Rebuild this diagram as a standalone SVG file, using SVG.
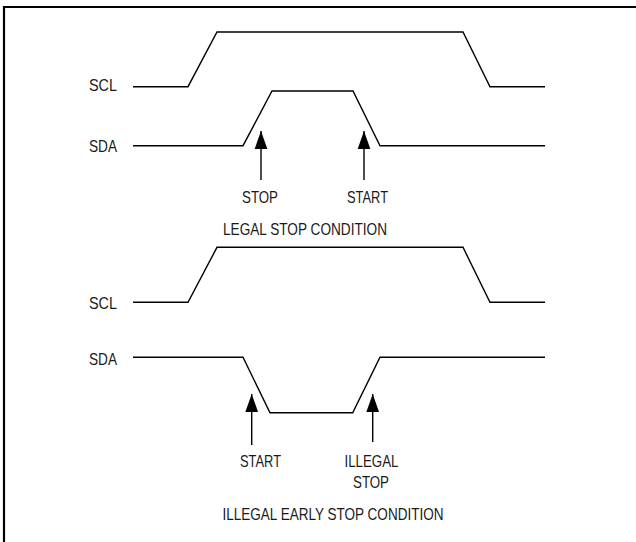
<svg xmlns="http://www.w3.org/2000/svg" width="636" height="542" viewBox="0 0 636 542">
<defs>
<marker id="ah" markerUnits="userSpaceOnUse" markerWidth="18" markerHeight="14" viewBox="0 0 17 12" refX="17" refY="6" orient="auto">
<path d="M0,0 L17,6 L0,12 Z" fill="#000"/>
</marker>
<style>
.w{fill:none;stroke:#000;stroke-width:1.4;stroke-linejoin:miter}
.a{stroke:#000;stroke-width:1.4;fill:none}
.t{font-family:"Liberation Sans",Arial,sans-serif;font-size:16.5px;fill:#1a1a1a}
.c{text-anchor:middle}
.e{text-anchor:end}
</style>
</defs>
<rect width="636" height="542" fill="#fff"/>
<path d="M4,560 V7 H650" fill="none" stroke="#000" stroke-width="2.2"/>
<g id="legal">
<g id="scl1"><text class="t e" x="117" y="91" textLength="28" lengthAdjust="spacingAndGlyphs">SCL</text>
<path class="w" d="M133,86.7 H188 L217,32 H463 L490,86.7 H545"/></g>
<g id="sda1"><text class="t e" x="117" y="152" textLength="28" lengthAdjust="spacingAndGlyphs">SDA</text>
<path class="w" d="M133,145.7 H243 L272,91 H353 L380,145.7 H545"/></g>
<g id="stop1"><text class="t c" x="260" y="203" textLength="36" lengthAdjust="spacingAndGlyphs">STOP</text></g>
<g id="start1"><text class="t c" x="367.5" y="203" textLength="41" lengthAdjust="spacingAndGlyphs">START</text></g>
<text class="t c" x="305" y="235" textLength="164" lengthAdjust="spacingAndGlyphs">LEGAL STOP CONDITION</text>
</g>
<g id="illegal">
<g id="scl2"><text class="t e" x="117" y="309" textLength="28" lengthAdjust="spacingAndGlyphs">SCL</text>
<path class="w" d="M133,302.3 H188 L217,247.3 H463 L490,302.3 H545"/></g>
<g id="sda2"><text class="t e" x="117" y="365" textLength="28" lengthAdjust="spacingAndGlyphs">SDA</text>
<path class="w" d="M133,357.3 H243 L270,412.7 H352.7 L380,357.3 H545"/></g>
<g id="start2"><text class="t c" x="260.5" y="467" textLength="41" lengthAdjust="spacingAndGlyphs">START</text></g>
<g id="illegalstop"><text class="t c" x="371.5" y="467" textLength="54" lengthAdjust="spacingAndGlyphs">ILLEGAL</text>
<text class="t c" x="371" y="488" textLength="36" lengthAdjust="spacingAndGlyphs">STOP</text></g>
<text class="t c" x="333" y="520" textLength="221" lengthAdjust="spacingAndGlyphs">ILLEGAL EARLY STOP CONDITION</text>
</g>
<g id="connectors">
<line class="a" x1="261" y1="180" x2="261" y2="131" marker-end="url(#ah)"/>
<line class="a" x1="364" y1="180" x2="364" y2="131" marker-end="url(#ah)"/>
<line class="a" x1="251.7" y1="445" x2="251.7" y2="394" marker-end="url(#ah)"/>
<line class="a" x1="372.7" y1="442" x2="372.7" y2="394" marker-end="url(#ah)"/>
</g>
</svg>
